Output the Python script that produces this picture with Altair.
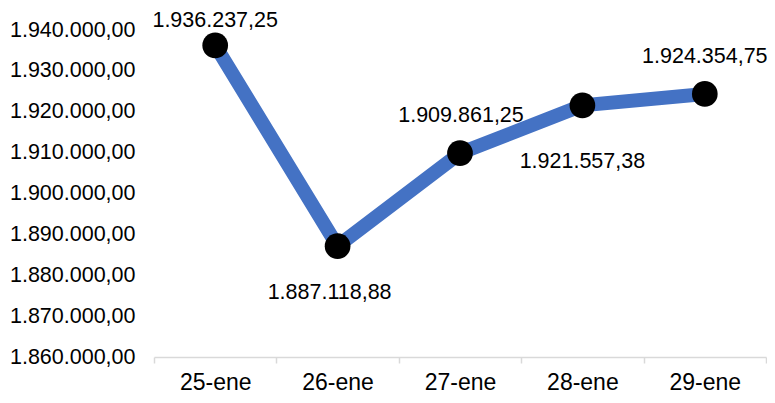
import altair as alt
import pandas as pd

dates = ["25-ene", "26-ene", "27-ene", "28-ene", "29-ene"]
values = [1936237.25, 1887118.88, 1909861.25, 1921557.38, 1924354.75]


def es_fmt(v):
    s = f"{v:,.2f}"
    return s.replace(",", "#").replace(".", ",").replace("#", ".")


df = pd.DataFrame({
    "fecha": dates,
    "valor": values,
    "etiqueta": [es_fmt(v) for v in values],
})

FONT = "Liberation Sans"
LBL = 21.5

x = alt.X("fecha:N", sort=dates, title=None,
          scale=alt.Scale(type="band", paddingInner=0, paddingOuter=0),
          axis=alt.Axis(labelAngle=0, tickBand="extent", domainColor="#d9d9d9",
                        domainWidth=1.5, tickColor="#d9d9d9", tickWidth=1.5,
                        tickSize=6, labelPadding=8, labelFontSize=23,
                        labelColor="#000000", labelFont=FONT))
y = alt.Y("valor:Q", title=None,
          scale=alt.Scale(domain=[1860000, 1940000], nice=False, zero=False),
          axis=alt.Axis(values=list(range(1860000, 1940001, 10000)), domain=False,
                        ticks=False, grid=False, labelPadding=19, labelFontSize=LBL,
                        labelColor="#000000", labelFont=FONT,
                        labelExpr="replace(replace(replace(format(datum.value, ',.2f'), regexp(',', 'g'), '#'), regexp('[.]', 'g'), ','), regexp('#', 'g'), '.')"))

base = alt.Chart(df).encode(x=x, y=y)

line = base.mark_line(color="#4472C4", strokeWidth=14, strokeJoin="miter")
pts = base.mark_point(filled=True, shape="circle", size=660, color="#000000", opacity=1)

# label placement per category (style only): (dx, dy)
placement = {
    "25-ene": (0, -24),
    "26-ene": (-8, 47),
    "27-ene": (1, -37),
    "28-ene": (0, 57),
    "29-ene": (0, -37),
}
texts = [
    base.mark_text(fontSize=LBL, font=FONT, color="#000000", dx=dx, dy=dy)
    .encode(text="etiqueta:N")
    .transform_filter(alt.datum.fecha == d)
    for d, (dx, dy) in placement.items()
]

chart = alt.layer(line, pts, *texts).properties(
    width=612, height=327,
    autosize=alt.AutoSizeParams(type="none"),
    padding={"left": 146, "top": 22, "right": 1, "bottom": 38},
).configure_view(stroke=None)

chart.save("out.html", embed_options={"renderer": "svg", "actions": False})
